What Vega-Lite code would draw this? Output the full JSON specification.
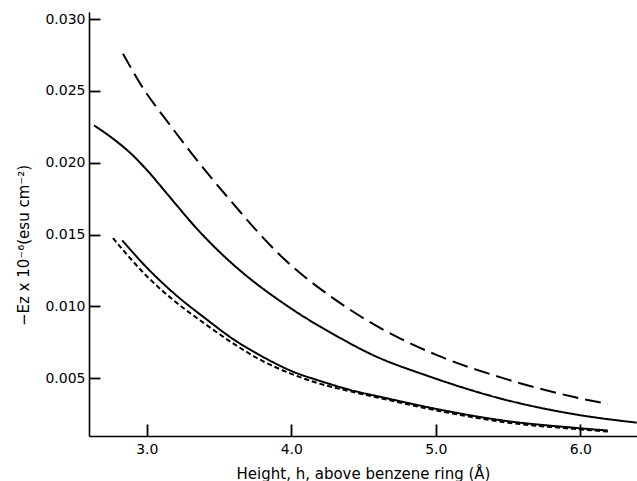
{
  "$schema": "https://vega.github.io/schema/vega-lite/v6.json",
  "autosize": {"type": "none"},
  "width": 548,
  "height": 424,
  "padding": {"left": 89, "top": 12, "right": 0, "bottom": 45},
  "background": "white",
  "config": {
    "view": {"stroke": null},
    "font": "DejaVu Sans",
    "axis": {"domainColor": "black", "tickColor": "black", "labelColor": "black", "titleColor": "black", "grid": false, "ticks": true, "domainWidth": 1.6, "tickWidth": 1.8, "labelFont": "DejaVu Sans", "titleFont": "DejaVu Sans", "titleFontWeight": "normal"}
  },
  "data": {"values": [
    {"s": "A", "h": 2.835, "e": 0.0276},
    {"s": "A", "h": 2.974, "e": 0.0252},
    {"s": "A", "h": 3.14, "e": 0.0229},
    {"s": "A", "h": 3.299, "e": 0.0208},
    {"s": "A", "h": 3.576, "e": 0.0174},
    {"s": "A", "h": 3.943, "e": 0.01336},
    {"s": "A", "h": 4.289, "e": 0.01057},
    {"s": "A", "h": 4.614, "e": 0.0085},
    {"s": "A", "h": 5.008, "e": 0.0066},
    {"s": "A", "h": 5.465, "e": 0.0050},
    {"s": "A", "h": 5.95, "e": 0.0037},
    {"s": "A", "h": 6.19, "e": 0.0032},
    {"s": "B", "h": 2.635, "e": 0.0226},
    {"s": "B", "h": 2.75, "e": 0.0218},
    {"s": "B", "h": 2.905, "e": 0.0205},
    {"s": "B", "h": 3.0, "e": 0.0195},
    {"s": "B", "h": 3.16, "e": 0.0176},
    {"s": "B", "h": 3.347, "e": 0.0154},
    {"s": "B", "h": 3.555, "e": 0.0133},
    {"s": "B", "h": 3.645, "e": 0.0125},
    {"s": "B", "h": 3.991, "e": 0.0099},
    {"s": "B", "h": 4.337, "e": 0.0078},
    {"s": "B", "h": 4.545, "e": 0.0067},
    {"s": "B", "h": 4.96, "e": 0.0051},
    {"s": "B", "h": 5.49, "e": 0.00347},
    {"s": "B", "h": 5.95, "e": 0.0025},
    {"s": "B", "h": 6.39, "e": 0.0019},
    {"s": "C", "h": 2.83, "e": 0.0146},
    {"s": "C", "h": 3.0, "e": 0.0127},
    {"s": "C", "h": 3.2, "e": 0.0108},
    {"s": "C", "h": 3.4, "e": 0.0092},
    {"s": "C", "h": 3.6, "e": 0.0077},
    {"s": "C", "h": 3.8, "e": 0.0065},
    {"s": "C", "h": 4.0, "e": 0.0055},
    {"s": "C", "h": 4.2, "e": 0.0048},
    {"s": "C", "h": 4.4, "e": 0.0042},
    {"s": "C", "h": 4.66, "e": 0.0036},
    {"s": "C", "h": 5.03, "e": 0.0028},
    {"s": "C", "h": 5.5, "e": 0.0020},
    {"s": "C", "h": 5.95, "e": 0.00155},
    {"s": "C", "h": 6.19, "e": 0.00135},
    {"s": "D", "h": 2.766, "e": 0.01475},
    {"s": "D", "h": 3.0, "e": 0.0121},
    {"s": "D", "h": 3.2, "e": 0.0103},
    {"s": "D", "h": 3.4, "e": 0.0088},
    {"s": "D", "h": 3.6, "e": 0.0074},
    {"s": "D", "h": 3.8, "e": 0.0062},
    {"s": "D", "h": 4.0, "e": 0.0053},
    {"s": "D", "h": 4.2, "e": 0.0046},
    {"s": "D", "h": 4.4, "e": 0.0041},
    {"s": "D", "h": 4.66, "e": 0.0035},
    {"s": "D", "h": 5.03, "e": 0.0027},
    {"s": "D", "h": 5.5, "e": 0.0019},
    {"s": "D", "h": 5.95, "e": 0.00147},
    {"s": "D", "h": 6.19, "e": 0.00128}
  ]},
  "mark": {"type": "line", "interpolate": "monotone", "color": "black", "strokeWidth": 2, "clip": true},
  "encoding": {
    "x": {
      "field": "h", "type": "quantitative",
      "scale": {"domain": [2.6, 6.392], "nice": false, "zero": false},
      "axis": {"values": [3, 4, 5, 6], "format": ".1f", "tickSize": -12, "labelPadding": 18, "labelFontSize": 14, "titleFontSize": 15, "title": "Height, h, above benzene ring (Å)", "titleY": 42, "titleBaseline": "alphabetic"}
    },
    "y": {
      "field": "e", "type": "quantitative",
      "scale": {"domain": [0.00097, 0.0305], "nice": false, "zero": false},
      "axis": {"values": [0.005, 0.01, 0.015, 0.02, 0.025, 0.03], "format": ".3f", "tickSize": -11, "labelPadding": 15, "labelFontSize": 14, "titleFontSize": 15, "title": "−Ez x 10⁻⁶(esu cm⁻²)", "titleX": -66, "titleY": 233, "titleBaseline": "middle", "titleAngle": -90}
    },
    "detail": {"field": "s"},
    "strokeDash": {"field": "s", "type": "nominal", "legend": null, "scale": {"domain": ["A", "B", "C", "D"], "range": [[16, 7], [1, 0], [1, 0], [5, 3]]}}
  }
}
